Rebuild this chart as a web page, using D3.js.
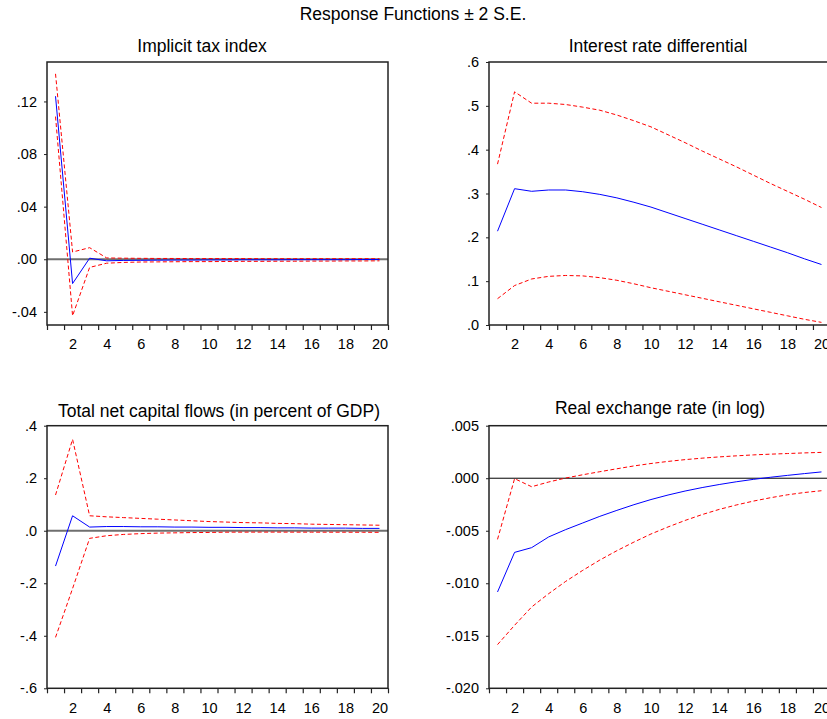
<!DOCTYPE html>
<html><head><meta charset="utf-8">
<script src="https://cdn.jsdelivr.net/npm/d3@7/dist/d3.min.js"></script>
<style>
body{margin:0;background:#fff}
svg{display:block}
text{font-family:"Liberation Sans",Arial,sans-serif;fill:#000}
</style>
</head><body>
<svg id="c" width="827" height="719"></svg>
<script>
// ---------- data ----------
const periods = d3.range(1, 21);
const xTickLabels = [2, 4, 6, 8, 10, 12, 14, 16, 18, 20];
const mainTitle = "Response Functions \u00B1 2 S.E.";

// Implicit tax index
const taxResp  = [0.124, -0.0185, 0.0008, -0.0012, -0.0009, -0.0008, -0.0007, -0.0006, -0.0006, -0.0005, -0.0005, -0.0004, -0.0004, -0.0004, -0.0003, -0.0003, -0.0003, -0.0003, -0.0002, -0.0002];
const taxUpper = [0.141, 0.0055, 0.0088, 0.0010, 0.0008, 0.0007, 0.0006, 0.0006, 0.0005, 0.0005, 0.0005, 0.0005, 0.0004, 0.0004, 0.0004, 0.0004, 0.0004, 0.0004, 0.0004, 0.0004];
const taxLower = [0.1085, -0.0430, -0.0062, -0.0030, -0.0024, -0.0021, -0.0020, -0.0019, -0.0018, -0.0018, -0.0017, -0.0016, -0.0016, -0.0015, -0.0015, -0.0014, -0.0014, -0.0013, -0.0013, -0.0012];
const taxYTicks = [-0.04, 0, 0.04, 0.08, 0.12];
const taxYLabels = ["-.04", ".00", ".04", ".08", ".12"];

// Interest rate differential
const irdResp  = [0.214, 0.311, 0.305, 0.308, 0.308, 0.304, 0.298, 0.290, 0.280, 0.269, 0.256, 0.243, 0.230, 0.217, 0.204, 0.191, 0.178, 0.165, 0.151, 0.138];
const irdUpper = [0.367, 0.532, 0.506, 0.506, 0.503, 0.497, 0.490, 0.479, 0.466, 0.452, 0.434, 0.416, 0.397, 0.379, 0.361, 0.342, 0.323, 0.305, 0.287, 0.268];
const irdLower = [0.060, 0.090, 0.105, 0.111, 0.113, 0.112, 0.108, 0.102, 0.094, 0.085, 0.077, 0.069, 0.061, 0.053, 0.045, 0.037, 0.029, 0.021, 0.013, 0.006];
const irdYTicks = [0, 0.1, 0.2, 0.3, 0.4, 0.5, 0.6];
const irdYLabels = [".0", ".1", ".2", ".3", ".4", ".5", ".6"];

// Total net capital flows (in percent of GDP)
const kfResp  = [-0.1345, 0.057, 0.014, 0.016, 0.016, 0.015, 0.015, 0.014, 0.014, 0.013, 0.013, 0.012, 0.012, 0.011, 0.011, 0.010, 0.010, 0.010, 0.009, 0.009];
const kfUpper = [0.136, 0.348, 0.057, 0.053, 0.050, 0.047, 0.044, 0.041, 0.038, 0.035, 0.033, 0.031, 0.030, 0.028, 0.027, 0.025, 0.024, 0.023, 0.022, 0.021];
const kfLower = [-0.406, -0.220, -0.029, -0.019, -0.014, -0.011, -0.009, -0.008, -0.007, -0.0065, -0.0055, -0.0053, -0.0052, -0.0052, -0.0053, -0.0054, -0.0055, -0.0056, -0.0058, -0.0060];
const kfYTicks = [-0.6, -0.4, -0.2, 0, 0.2, 0.4];
const kfYLabels = ["-.6", "-.4", "-.2", ".0", ".2", ".4"];

// Real exchange rate (in log)
const rerResp  = [-0.01083, -0.00706, -0.00661, -0.00559, -0.00489, -0.00426, -0.00363, -0.00306, -0.00252, -0.00203, -0.00160, -0.00122, -0.00089, -0.00060, -0.00034, -0.00011, 0.00009, 0.00027, 0.00044, 0.00060];
const rerUpper = [-0.00582, -0.00004, -0.00081, -0.00036, 0.00002, 0.00033, 0.00062, 0.00090, 0.00117, 0.00140, 0.00160, 0.00177, 0.00191, 0.00203, 0.00213, 0.00222, 0.00229, 0.00235, 0.00241, 0.00246];
const rerLower = [-0.01584, -0.01400, -0.01226, -0.01099, -0.00982, -0.00877, -0.00779, -0.00690, -0.00608, -0.00531, -0.00464, -0.00402, -0.00346, -0.00297, -0.00255, -0.00218, -0.00186, -0.00158, -0.00136, -0.00119];
const rerYTicks = [-0.02, -0.015, -0.01, -0.005, 0, 0.005];
const rerYLabels = ["-.020", "-.015", "-.010", "-.005", ".000", ".005"];

// ---------- layout ----------
const panels = [
  {title: "Implicit tax index", mid: taxResp, up: taxUpper, lo: taxLower,
   yDomain: [-0.05, 0.15], yTicks: taxYTicks, yLabels: taxYLabels,
   x: 47, y: 62, w: 341, h: 263, titleX: 202, titleY: 52, zero: {color: "#6f6f6f", width: 2}},
  {title: "Interest rate differential", mid: irdResp, up: irdUpper, lo: irdLower,
   yDomain: [0, 0.6], yTicks: irdYTicks, yLabels: irdYLabels,
   x: 489, y: 62, w: 341, h: 263, titleX: 658, titleY: 52, zero: null},
  {title: "Total net capital flows (in percent of GDP)", mid: kfResp, up: kfUpper, lo: kfLower,
   yDomain: [-0.6, 0.4], yTicks: kfYTicks, yLabels: kfYLabels,
   x: 47, y: 425.7, w: 341, h: 262.6, titleX: 219, titleY: 417, zero: {color: "#6f6f6f", width: 2}},
  {title: "Real exchange rate (in log)", mid: rerResp, up: rerUpper, lo: rerLower,
   yDomain: [-0.02, 0.005], yTicks: rerYTicks, yLabels: rerYLabels,
   x: 489, y: 425.7, w: 341, h: 262.6, titleX: 660, titleY: 414, zero: {color: "#000", width: 1}}
];

const svg = d3.select("#c");
svg.append("rect").attr("width", 827).attr("height", 719).attr("fill", "#fff");

svg.append("text").attr("x", 413).attr("y", 20).attr("text-anchor", "middle")
  .style("font-size", "17.5px").text(mainTitle);

panels.forEach(p => {
  const g = svg.append("g").attr("transform", `translate(${p.x},${p.y})`);
  const x = d3.scaleLinear().domain([0.5, 20.5]).range([0, p.w]);
  const y = d3.scaleLinear().domain(p.yDomain).range([p.h, 0]);

  // title
  svg.append("text").attr("x", p.titleX).attr("y", p.titleY).attr("text-anchor", "middle")
    .style("font-size", "17.5px").text(p.title);

  // zero line
  if (p.zero) {
    g.append("line").attr("x1", 0).attr("x2", p.w).attr("y1", y(0)).attr("y2", y(0))
      .attr("stroke", p.zero.color).attr("stroke-width", p.zero.width);
  }

  const line = d3.line().x((d, i) => x(periods[i])).y(d => y(d));
  g.append("path").datum(p.up).attr("d", line).attr("fill", "none")
    .attr("stroke", "#ff0000").attr("stroke-width", 1).attr("stroke-dasharray", "4,2.5");
  g.append("path").datum(p.lo).attr("d", line).attr("fill", "none")
    .attr("stroke", "#ff0000").attr("stroke-width", 1).attr("stroke-dasharray", "4,2.5");
  g.append("path").datum(p.mid).attr("d", line).attr("fill", "none")
    .attr("stroke", "#0000ff").attr("stroke-width", 1);

  // x axis ticks at period boundaries
  const xt = g.append("g").attr("transform", `translate(0,${p.h})`)
    .call(d3.axisBottom(x).tickValues(d3.range(0.5, 21, 1)).tickSize(5).tickFormat(""));
  xt.select(".domain").remove();
  xt.selectAll("line").attr("stroke", "#222").attr("stroke-width", 1.2);

  // x labels
  const xl = g.append("g").attr("transform", `translate(0,${p.h})`)
    .call(d3.axisBottom(x).tickValues(xTickLabels).tickSize(0).tickPadding(14).tickFormat(d => String(d)));
  xl.select(".domain").remove();
  xl.selectAll("text").style("font-size", "14.5px").attr("fill", "#000");

  // y axis
  const ya = g.append("g")
    .call(d3.axisLeft(y).tickValues(p.yTicks).tickSize(3).tickPadding(7)
      .tickFormat((d, i) => p.yLabels[i]));
  ya.select(".domain").remove();
  ya.selectAll("line").attr("stroke", "#222");
  ya.selectAll("text").style("font-size", "14.5px").attr("fill", "#000");

  // frame
  g.append("rect").attr("x", 0).attr("y", 0).attr("width", p.w).attr("height", p.h)
    .attr("fill", "none").attr("stroke", "#222").attr("stroke-width", 1.5);
});
</script>
</body></html>
